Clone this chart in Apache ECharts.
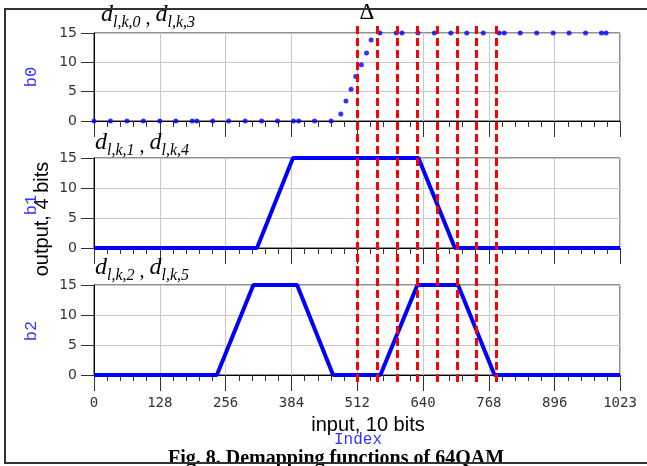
<!DOCTYPE html>
<html><head><meta charset="utf-8">
<script src="https://cdn.jsdelivr.net/npm/echarts@6/dist/echarts.min.js"></script>
<style>html,body{margin:0;padding:0;background:#fff}#c{width:647px;height:466px}</style>
</head><body><div id="c"></div>
<script>
// ---- data ----
const b0Points = [[0,0],[32,0],[64,0],[96,0],[128,0],[159,0],[191,0],[200,0],[231,0],[262,0],[294,0],[326,0],[357,0],[388,0],[398,0],[429,0],[461,0],[480,1.2],[490,3.4],[500,5.4],[509,7.6],[520,9.6],[530,11.6],[539,13.8],[556,15],[588,15],[599,15],[630,15],[662,15],[694,15],[725,15],[757,15],[788,15],[798,15],[829,15],[861,15],[893,15],[924,15],[956,15],[987,15],[996,15]];
const b1Points = [[0,0],[317,0],[387,15],[631,15],[702,0],[1023,0]];
const b2Points = [[0,0],[239,0],[310,15],[395,15],[465,0],[557,0],[629,15],[708,15],[779,0],[1023,0]];
const thresholdX = [512,551,590,628,667,706,744,783];
const panelNames = ['b0','b1','b2'];
const panelSubs = [['l,k,0','l,k,3'],['l,k,1','l,k,4'],['l,k,2','l,k,5']];
const xMin = 0, xMax = 1023, xStep = 128;
const yMin = 0, yMax = 15, yStep = 5;

// ---- layout ----
const L = 94, R = 27;
const tops = [33,158,285], heights = [88,90,90];
const BLUE = '#0000ff';

const chart = echarts.init(document.getElementById('c'), null, {renderer:'canvas'});
const grids = [], xAxes = [], yAxes = [];
for (let i = 0; i < 3; i++) {
  grids.push({left:L, right:R, top:tops[i], height:heights[i], show:true, borderColor:'#222', borderWidth:1, containLabel:false});
  xAxes.push({type:'value', gridIndex:i, min:xMin, max:xMax, interval:xStep,
    axisLine:{show:true, onZero:false, lineStyle:{color:'#000', width:1}},
    axisTick:{show:true, length:16, lineStyle:{color:'#333'}},
    minorTick:{show:true, splitNumber:5, length:6, lineStyle:{color:'#333'}},
    splitLine:{show:true, lineStyle:{color:'#c8c8c8', width:1}},
    axisLabel:{show:i===2, margin:21, fontFamily:'DejaVu Sans Mono', fontSize:14, color:'#333',
      showMinLabel:true, showMaxLabel:true, formatter:(v) => String(v)}
  });
  yAxes.push({type:'value', gridIndex:i, min:yMin, max:yMax, interval:yStep,
    axisLine:{show:true, lineStyle:{color:'#000', width:1}},
    axisTick:{show:true, length:13, lineStyle:{color:'#333'}},
    splitLine:{show:true, lineStyle:{color:'#c8c8c8', width:1}},
    axisLabel:{margin:17, fontFamily:'DejaVu Sans', fontSize:14, color:'#333'}
  });
}
// overlay for threshold lines
grids.push({left:L, right:R, top:23, height:359, show:false});
xAxes.push({type:'value', gridIndex:3, min:xMin, max:xMax, show:false});
yAxes.push({type:'value', gridIndex:3, min:0, max:1, show:false});

const graphic = [];
graphic.push({type:'rect', z:100, shape:{x:5, y:9, width:720, height:454},
  style:{fill:'none', stroke:'#333', lineWidth:2}, silent:true});
const nameY = [77, 205, 331];
for (let i = 0; i < 3; i++) {
  graphic.push({type:'text', x:31, y:nameY[i], rotation:Math.PI/2, z:50,
    style:{text:panelNames[i], font:'17px "Liberation Mono"', fill:'#3333ff', align:'center', verticalAlign:'middle'}});
}
const titleTop = [7, 135, 260];
const titleLeft = [101, 95, 95];
for (let i = 0; i < 3; i++) {
  graphic.push({type:'text', x:titleLeft[i], y:titleTop[i], z:50,
    style:{text:'{d|d}{s|' + panelSubs[i][0] + '}{c| , }{d|d}{s|' + panelSubs[i][1] + '}',
      align:'left', verticalAlign:'top',
      rich:{
        d:{fontFamily:'Liberation Serif', fontStyle:'italic', fontSize:24, lineHeight:24, verticalAlign:'bottom', padding:[0,0,4,0], fill:'#000'},
        s:{fontFamily:'Liberation Serif', fontStyle:'italic', fontSize:16, lineHeight:16, verticalAlign:'bottom', fill:'#000'},
        c:{fontFamily:'Liberation Serif', fontSize:20, lineHeight:20, verticalAlign:'bottom', padding:[0,0,2,0], fill:'#000'}
      }}});
}
graphic.push({type:'text', x:367, y:13, z:50,
  style:{text:'Δ', font:'23px "Liberation Serif"', fill:'#000', align:'center', verticalAlign:'middle'}});
graphic.push({type:'text', x:42, y:219, rotation:Math.PI/2, z:49,
  style:{text:'output, 4 bits', font:'20px "Liberation Sans"', fill:'#000', align:'center', verticalAlign:'middle'}});
graphic.push({type:'text', x:368, y:425, z:49,
  style:{text:'input, 10 bits', font:'20px "Liberation Sans"', fill:'#000', align:'center', verticalAlign:'middle'}});
graphic.push({type:'text', x:358, y:440, z:50,
  style:{text:'Index', font:'16px "Liberation Mono"', fill:'#3333ff', align:'center', verticalAlign:'middle'}});
graphic.push({type:'text', x:336, y:459, z:49,
  style:{text:'Fig. 8. Demapping functions of 64QAM', font:'bold 20px "Liberation Serif"', fill:'#000', align:'center', verticalAlign:'middle'}});

chart.setOption({
  animation:false,
  backgroundColor:'#fff',
  grid:grids, xAxis:xAxes, yAxis:yAxes,
  graphic:graphic,
  series:[
    {type:'scatter', xAxisIndex:0, yAxisIndex:0, data:b0Points, symbolSize:5, itemStyle:{color:BLUE}, clip:false, z:5},
    {type:'line', xAxisIndex:1, yAxisIndex:1, data:b1Points, showSymbol:false, clip:false, lineStyle:{color:BLUE, width:4}, z:5},
    {type:'line', xAxisIndex:2, yAxisIndex:2, data:b2Points, showSymbol:false, clip:false, lineStyle:{color:BLUE, width:4}, z:5},
    {type:'lines', coordinateSystem:'cartesian2d', xAxisIndex:3, yAxisIndex:3, z:10,
      data:thresholdX.map(x => ({coords:[[x,0],[x,1]]})),
      lineStyle:{color:'#ff0000', width:3, type:[8,4], opacity:1}}
  ]
});
</script></body></html>
